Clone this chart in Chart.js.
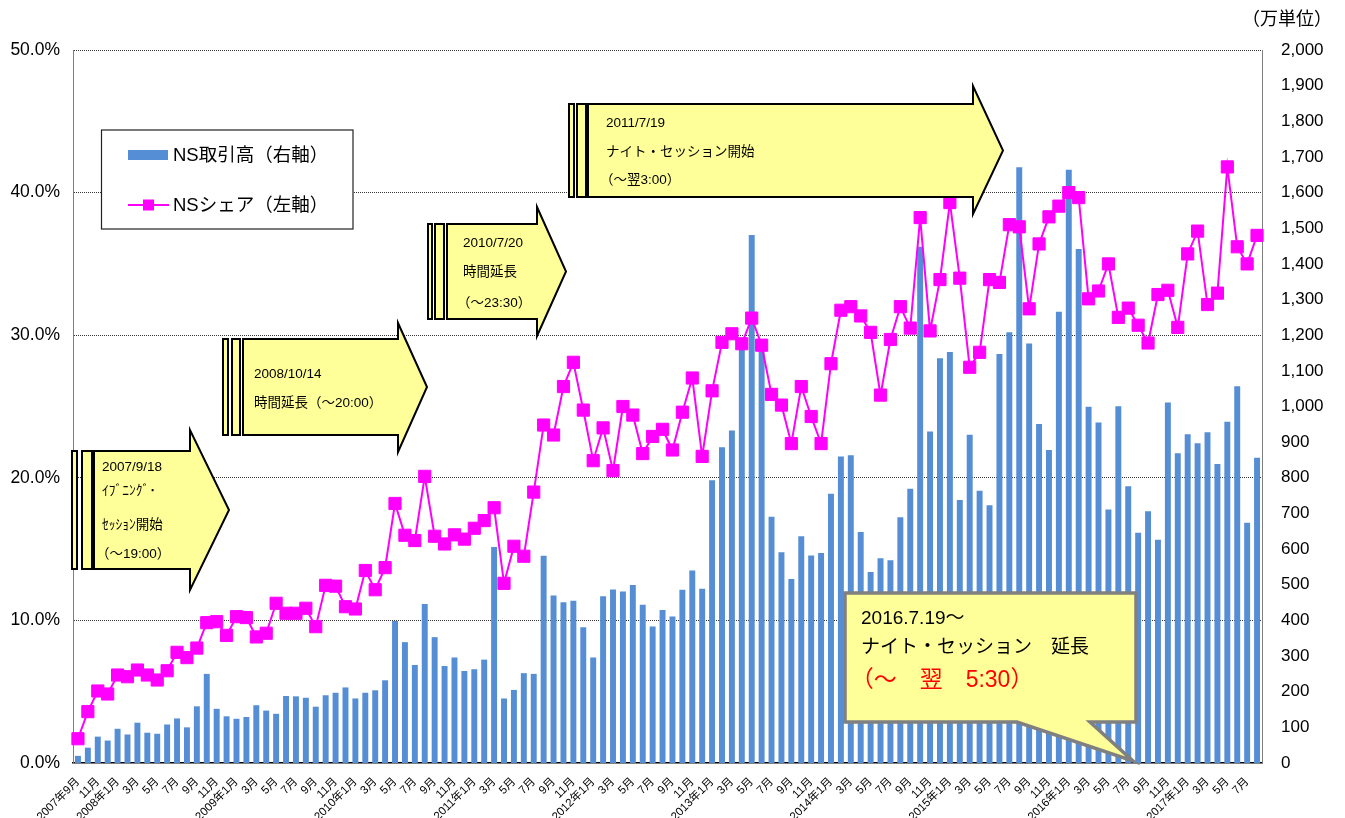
<!DOCTYPE html>
<html>
<head>
<meta charset="utf-8">
<script src="https://cdn.jsdelivr.net/npm/chart.js@4.4.1/dist/chart.umd.min.js"></script>
<style>
    html, body { margin: 0; padding: 0; background: #fff; }
</style>
</head>
<body>
<canvas id="nsChart" width="1345" height="818"></canvas>
<script>
// ---------- DATA ----------
const startYear = 2007;
const startMonth = 9;
const monthCount = 120;

// NS取引高 (万単位, right axis)
const volume = [
    20, 43, 74, 63, 96, 80, 113, 85, 82, 108, 125, 100,
    159, 250, 152, 131, 124, 129, 162, 147, 138, 188, 187, 183,
    158, 190, 197, 212, 181, 197, 204, 232, 398, 339, 275, 446,
    353, 272, 296, 258, 263, 290, 606, 181, 205, 252, 250, 581,
    470, 451, 455, 381, 296, 468, 487, 481, 499, 444, 383, 429,
    411, 486, 540, 489, 793, 886, 933, 1167, 1481, 1167, 691, 591,
    516, 636, 582, 589, 755, 860, 863, 648, 536, 574, 569, 689,
    769, 1448, 930, 1135, 1153, 738, 921, 764, 723, 1147, 1208, 1671,
    1177, 951, 878, 1266, 1664, 1442, 999, 955, 711, 1001, 776, 646,
    706, 626, 1011, 869, 922, 897, 928, 839, 957, 1057, 674, 856
];

// NSシェア (%, left axis)
const share = [
    1.7, 3.6, 5.05, 4.84, 6.17, 6.05, 6.52, 6.17, 5.82, 6.47, 7.76, 7.39,
    8.06, 9.84, 9.91, 8.95, 10.26, 10.2, 8.84, 9.1, 11.2, 10.5, 10.5, 10.85,
    9.56, 12.46, 12.4, 10.96, 10.8, 13.5, 12.15, 13.7, 18.2, 15.97, 15.6, 20.1,
    15.9, 15.36, 16.0, 15.7, 16.46, 17.0, 17.9, 12.6, 15.2, 14.5, 19.0, 23.7,
    23.0, 26.4, 28.1, 24.75, 21.2, 23.5, 20.5, 25.0, 24.4, 21.7, 22.9, 23.4,
    21.95, 24.6, 27.0, 21.5, 26.1, 29.5, 30.1, 29.4, 31.2, 29.3, 25.85, 25.1,
    22.4, 26.4, 24.3, 22.4, 28.0, 31.75, 32.0, 31.35, 30.2, 25.8, 29.7, 32.0,
    30.5, 38.25, 30.3, 33.9, 39.3, 34.0, 27.75, 28.8, 33.9, 33.7, 37.75, 37.6,
    31.85, 36.4, 38.3, 39.05, 40.0, 39.65, 32.55, 33.1, 35.0, 31.25, 31.9, 30.7,
    29.45, 32.85, 33.15, 30.55, 35.7, 37.3, 32.15, 32.95, 41.8, 36.2, 35.0, 37.0
];

// month labels: "2007年9月", "10月", ... "2008年1月", ...
const months = [];
for (let i = 0; i < monthCount; i++) {
    const m = (startMonth - 1 + i) % 12 + 1;
    const y = startYear + Math.floor((startMonth - 1 + i) / 12);
    months.push((i === 0 || m === 1) ? `${y}年${m}月` : `${m}月`);
}

const FONT = '"Liberation Sans", "Noto Sans CJK JP", sans-serif';

// ---------- ANNOTATIONS (arrows, callout, legend) ----------
const arrows = [
    { bars: [[72, 77], [82, 92]], left: 94, neck: 190, top: 451, bottom: 569, headTop: 430, headBottom: 590, tip: 229,
      textX: 102, lines: [["2007/9/18", 467], ["ｲﾌﾞﾆﾝｸﾞ･", 491], ["ｾｯｼｮﾝ開始", 525], ["（～19:00）", 554]] },
    { bars: [[223, 228], [232, 240]], left: 243, neck: 398, top: 339, bottom: 435, headTop: 323, headBottom: 452, tip: 427,
      textX: 254, lines: [["2008/10/14", 374], ["時間延長（～20:00）", 403]] },
    { bars: [[428, 432], [435, 444]], left: 447, neck: 537, top: 224, bottom: 319, headTop: 207, headBottom: 336, tip: 566,
      textX: 463, lines: [["2010/7/20", 243], ["時間延長", 272], ["（～23:30）", 303]] },
    { bars: [[569, 574], [577, 586]], left: 588, neck: 973, top: 104, bottom: 197, headTop: 86, headBottom: 214, tip: 1003,
      textX: 606, lines: [["2011/7/19", 123], ["ナイト・セッション開始", 152], ["（～翌3:00）", 180]] }
];

// full-width "（" carries blank space on its left; pull such lines back
function textStart(t, x, size) {
    return t.startsWith("（") ? x - size * 0.45 : x;
}

function drawArrow(ctx, a) {
    const mid = (a.top + a.bottom) / 2;
    const size = 13.5;
    ctx.save();
    ctx.fillStyle = "#FFFF99";
    ctx.strokeStyle = "#000";
    ctx.lineWidth = 2;
    a.bars.forEach(([x0, x1]) => {
        ctx.fillRect(x0, a.top, x1 - x0, a.bottom - a.top);
        ctx.strokeRect(x0, a.top, x1 - x0, a.bottom - a.top);
    });
    ctx.beginPath();
    ctx.moveTo(a.left, a.top);
    ctx.lineTo(a.neck, a.top);
    ctx.lineTo(a.neck, a.headTop);
    ctx.lineTo(a.tip, mid);
    ctx.lineTo(a.neck, a.headBottom);
    ctx.lineTo(a.neck, a.bottom);
    ctx.lineTo(a.left, a.bottom);
    ctx.closePath();
    ctx.fill();
    ctx.stroke();

    ctx.fillStyle = "#000";
    ctx.font = size + "px " + FONT;
    ctx.textBaseline = "middle";
    ctx.textAlign = "left";
    a.lines.forEach(([t, y]) => ctx.fillText(t, textStart(t, a.textX, size), y));
    ctx.restore();
}

function drawCallout(ctx) {
    ctx.save();
    ctx.fillStyle = "#FFFF99";
    ctx.strokeStyle = "#808080";
    ctx.lineWidth = 3.5;
    ctx.lineJoin = "miter";
    ctx.beginPath();
    ctx.moveTo(845, 593);
    ctx.lineTo(1136, 593);
    ctx.lineTo(1136, 722);
    ctx.lineTo(1090, 722);
    ctx.lineTo(1133, 761);
    ctx.lineTo(1017, 722);
    ctx.lineTo(845, 722);
    ctx.closePath();
    ctx.fill();
    ctx.stroke();

    ctx.textBaseline = "middle";
    ctx.textAlign = "left";
    ctx.fillStyle = "#000";
    ctx.font = "19px " + FONT;
    ctx.fillText("2016.7.19～", 861, 619);
    ctx.fillText("ナイト・セッション　延長", 861, 648);
    ctx.fillStyle = "#FF0000";
    ctx.font = "23px " + FONT;
    ctx.fillText("（～　翌　5:30）", textStart("（", 861, 23), 681);
    ctx.restore();
}

function drawLegend(ctx, chart) {
    const barDs = chart.data.datasets.find(d => d.type === "bar");
    const lineDs = chart.data.datasets.find(d => d.type === "line");
    ctx.save();
    ctx.fillStyle = "#fff";
    ctx.fillRect(101.5, 130, 251.5, 99);
    ctx.strokeStyle = "#222";
    ctx.lineWidth = 1.2;
    ctx.strokeRect(101.5, 130, 251.5, 99);

    ctx.fillStyle = barDs.backgroundColor;
    ctx.fillRect(128, 150, 40, 10);

    ctx.strokeStyle = lineDs.borderColor;
    ctx.lineWidth = 2;
    ctx.beginPath();
    ctx.moveTo(128, 205);
    ctx.lineTo(169, 205);
    ctx.stroke();
    ctx.fillStyle = lineDs.borderColor;
    ctx.fillRect(143, 199.5, 11, 11);

    ctx.fillStyle = "#000";
    ctx.font = "18.5px " + FONT;
    ctx.textBaseline = "middle";
    ctx.fillText(barDs.label, 173, 156);
    ctx.fillText(lineDs.label, 173, 206);
    ctx.restore();
}

const annotationPlugin = {
    id: "annotations",
    afterDraw(chart) {
        const ctx = chart.ctx;
        drawCallout(ctx);
        arrows.forEach(a => drawArrow(ctx, a));
        drawLegend(ctx, chart);

        // right axis unit
        ctx.save();
        ctx.fillStyle = "#000";
        ctx.font = "18px " + FONT;
        ctx.textAlign = "right";
        ctx.textBaseline = "middle";
        ctx.fillText("（万単位）", 1332, 20);
        ctx.restore();
    }
};

// ---------- CHART ----------
const canvas = document.getElementById("nsChart");
new Chart(canvas.getContext("2d"), {
    type: "bar",
    data: {
        labels: months,
        datasets: [
            {
                type: "line",
                label: "NSシェア（左軸）",
                data: share,
                yAxisID: "yL",
                borderColor: "#FF00FF",
                backgroundColor: "#FF00FF",
                borderWidth: 2,
                pointStyle: "rect",
                pointRadius: 8.6,
                pointBorderWidth: 1,
                tension: 0,
                order: 0
            },
            {
                type: "bar",
                label: "NS取引高（右軸）",
                data: volume,
                yAxisID: "yR",
                backgroundColor: "#558ED5",
                barPercentage: 0.6,
                categoryPercentage: 1.0,
                order: 1
            }
        ]
    },
    options: {
        responsive: false,
        animation: false,
        layout: { padding: { top: 50, left: 0, right: 0, bottom: 0 } },
        plugins: {
            legend: { display: false },
            tooltip: { enabled: false }
        },
        scales: {
            x: {
                grid: { display: false },
                border: { display: true, color: "#000", width: 1.5 },
                ticks: {
                    autoSkip: false,
                    maxRotation: 45,
                    minRotation: 45,
                    padding: 4,
                    color: "#000",
                    font: { size: 11.5, family: FONT },
                    callback: (v, i) => (i % 2 === 0 ? months[i] : "")
                },
                afterFit: s => { s.height = 55; }
            },
            yL: {
                position: "left",
                min: 0,
                max: 50,
                ticks: {
                    stepSize: 10,
                    padding: 13,
                    color: "#000",
                    font: { size: 17.5, family: FONT },
                    callback: v => v.toFixed(1) + "%"
                },
                grid: {
                    drawTicks: false,
                    color: c => (c.tick && c.tick.value === 0 ? "rgba(0,0,0,0)" : "#333"),
                    lineWidth: 1
                },
                border: { display: true, color: "#808080", width: 1, dash: [1, 1] },
                afterFit: s => { s.width = 73; }
            },
            yR: {
                position: "right",
                min: 0,
                max: 2000,
                ticks: {
                    stepSize: 100,
                    padding: 19,
                    color: "#000",
                    font: { size: 17, family: FONT },
                    callback: v => v.toLocaleString("en-US")
                },
                grid: { display: false, drawTicks: false },
                border: { display: true, color: "#808080", width: 1 },
                afterFit: s => { s.width = 83; }
            }
        }
    },
    plugins: [annotationPlugin]
});
</script>
</body>
</html>
